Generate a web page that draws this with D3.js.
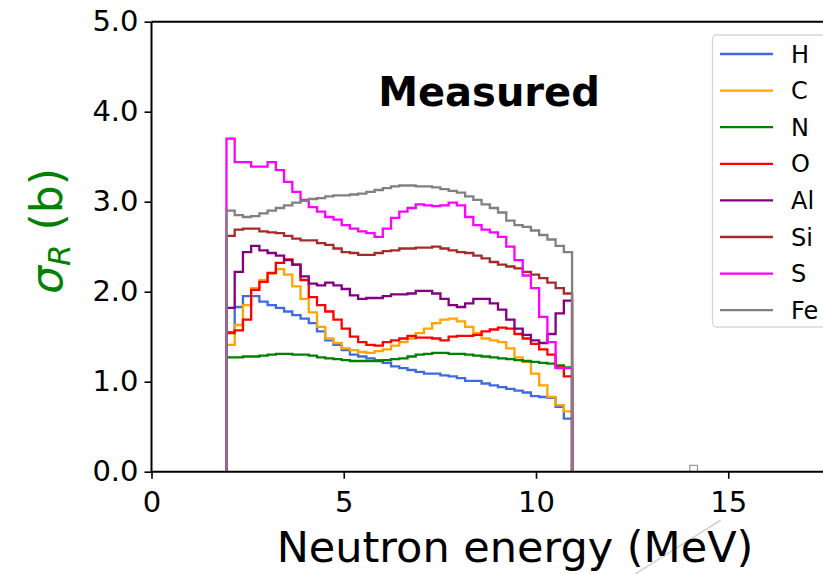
<!DOCTYPE html>
<html>
<head>
<meta charset="utf-8">
<script src="https://cdn.jsdelivr.net/npm/d3@7/dist/d3.min.js"></script>
<style>
  html, body { margin: 0; padding: 0; background: #fff; }
  svg { display: block; }
  text { font-family: "DejaVu Sans", sans-serif; }
</style>
</head>
<body>
<svg id="chart" width="823" height="574"></svg>
<script>
// ---------------- data ----------------
const elements = ["H", "C", "N", "O", "Al", "Si", "S", "Fe"];
const colors   = ["#4169E1", "#FFA500", "#008000", "#FF0000", "#800080", "#A52A2A", "#FF00FF", "#808080"];

const binStart = 1.95;     // MeV, first bin edge
const binWidth = 0.214;    // MeV

const H  = [1.55,1.83,1.95,1.95,1.89,1.85,1.82,1.78,1.74,1.70,1.65,1.56,1.46,1.41,1.35,1.30,1.28,1.26,1.24,1.21,1.17,
            1.15,1.13,1.11,1.09,1.09,1.07,1.06,1.04,1.01,1.01,0.98,0.96,0.94,0.92,0.90,0.88,0.84,0.83,0.82,0.72,0.59];
const C  = [1.41,1.63,1.85,2.04,2.13,2.20,2.25,2.19,2.06,1.92,1.77,1.61,1.48,1.43,1.37,1.35,1.33,1.32,1.34,1.36,1.40,
            1.44,1.48,1.54,1.59,1.65,1.69,1.70,1.67,1.61,1.54,1.48,1.46,1.44,1.37,1.27,1.22,1.09,0.96,0.83,0.74,0.67];
const N  = [1.27,1.27,1.28,1.28,1.29,1.30,1.31,1.31,1.30,1.30,1.29,1.27,1.26,1.25,1.24,1.23,1.23,1.23,1.23,1.24,1.25,
            1.26,1.28,1.30,1.31,1.32,1.32,1.31,1.31,1.30,1.29,1.28,1.27,1.26,1.25,1.24,1.23,1.22,1.21,1.20,1.18,1.16];
const O  = [1.54,1.57,1.69,2.02,2.11,2.21,2.32,2.36,2.30,2.13,1.94,1.85,1.78,1.69,1.59,1.50,1.44,1.41,1.40,1.44,1.46,
            1.48,1.51,1.49,1.49,1.48,1.46,1.50,1.51,1.51,1.52,1.56,1.58,1.60,1.59,1.53,1.48,1.42,1.36,1.30,1.16,1.06];
const Al = [1.82,2.22,2.44,2.51,2.46,2.43,2.40,2.35,2.30,2.17,2.09,2.07,2.10,2.07,2.03,1.96,1.92,1.93,1.93,1.95,1.97,
            1.97,1.98,2.01,2.01,1.98,1.92,1.85,1.83,1.87,1.92,1.92,1.87,1.80,1.69,1.59,1.52,1.46,1.43,1.53,1.76,1.90];
const Si = [2.62,2.69,2.70,2.70,2.67,2.66,2.65,2.62,2.59,2.57,2.57,2.54,2.52,2.48,2.44,2.43,2.41,2.41,2.43,2.45,2.46,
            2.48,2.48,2.49,2.49,2.50,2.48,2.46,2.44,2.43,2.40,2.37,2.33,2.30,2.28,2.26,2.22,2.19,2.15,2.10,2.04,1.98];
const S  = [3.70,3.44,3.44,3.39,3.39,3.44,3.35,3.22,3.11,3.02,2.94,2.89,2.83,2.80,2.74,2.70,2.67,2.65,2.61,2.70,2.82,
            2.89,2.93,2.97,2.96,2.95,2.96,2.99,2.96,2.83,2.74,2.69,2.66,2.61,2.50,2.35,2.18,2.04,1.72,1.44,1.15,1.15];
const Fe = [2.90,2.85,2.83,2.84,2.87,2.90,2.93,2.96,2.99,3.01,3.03,3.04,3.06,3.07,3.07,3.08,3.09,3.11,3.13,3.15,3.17,
            3.18,3.18,3.17,3.17,3.16,3.14,3.12,3.10,3.06,3.02,2.97,2.93,2.88,2.79,2.74,2.72,2.68,2.63,2.58,2.51,2.44];
const seriesValues = [H, C, N, O, Al, Si, S, Fe];

// tiny stray bin near 14 MeV
const strayStart = 14.0, strayWidth = 0.2, strayValue = [0.07];

const xTicks = [0, 5, 10, 15];
const yTicks = [0.0, 1.0, 2.0, 3.0, 4.0, 5.0];
const xTitle = "Neutron energy (MeV)";
const panelTitle = "Measured";

// ---------------- layout ----------------
const svg = d3.select("#chart");
const W = 823;
const x = d3.scaleLinear().domain([0, 20]).range([151.5, 151.5 + 20 * 38.45]);
const y = d3.scaleLinear().domain([0, 5]).range([471.7, 21.7]);

function stepPath(start, width, vals) {
  const p = d3.path();
  p.moveTo(x(start), y(0));
  vals.forEach((v, i) => {
    p.lineTo(x(start + i * width), y(v));
    p.lineTo(x(start + (i + 1) * width), y(v));
  });
  p.lineTo(x(start + vals.length * width), y(0));
  return p.toString();
}

// histograms
const g = svg.append("g");
seriesValues.forEach((vals, i) => {
  g.append("path")
    .attr("d", stepPath(binStart, binWidth, vals))
    .attr("fill", "none")
    .attr("stroke", colors[i])
    .attr("stroke-width", 2.3)
    .attr("stroke-linejoin", "miter");
});
g.append("path")
  .attr("d", stepPath(strayStart, strayWidth, strayValue))
  .attr("fill", "none").attr("stroke", "#9a9a9a").attr("stroke-width", 1.3);

// faint diagonal stroke (artifact in the original)
svg.append("line")
  .attr("x1", 632).attr("y1", 576).attr("x2", 721).attr("y2", 520)
  .attr("stroke", "#d4d4d4").attr("stroke-width", 1.6);

// axes
const yAxis = d3.axisLeft(y).tickValues(yTicks).tickFormat(d3.format(".1f")).tickSize(7).tickPadding(6);
const xAxis = d3.axisBottom(x).tickValues(xTicks).tickFormat(d3.format("d")).tickSize(7).tickPadding(6);

const ya = svg.append("g").attr("transform", `translate(${x(0)},0)`).call(yAxis);
const xa = svg.append("g").attr("transform", `translate(0,${y(0)})`).call(xAxis);
[ya, xa].forEach(a => {
  a.select(".domain").remove();
  a.selectAll(".tick line").attr("stroke", "#000").attr("stroke-width", 1.6);
  a.selectAll(".tick text").attr("fill", "#000").style("font-size", "29px").style("font-family", "DejaVu Sans");
});
xa.selectAll(".tick text").attr("dy", "0.95em");

// spines
svg.append("line").attr("x1", x(0)).attr("x2", x(0)).attr("y1", y(5)).attr("y2", y(0))
  .attr("stroke", "#000").attr("stroke-width", 2);
svg.append("line").attr("x1", x(0)).attr("x2", W + 5).attr("y1", y(0)).attr("y2", y(0))
  .attr("stroke", "#000").attr("stroke-width", 2);
svg.append("line").attr("x1", x(0)).attr("x2", W + 5).attr("y1", y(5)).attr("y2", y(5))
  .attr("stroke", "#000").attr("stroke-width", 2);

// axis titles
svg.append("text")
  .attr("x", 515).attr("y", 562)
  .attr("text-anchor", "middle")
  .style("font-size", "43px").attr("fill", "#000")
  .text(xTitle);

const yl = svg.append("text")
  .attr("transform", "translate(62,231) rotate(-90)")
  .attr("text-anchor", "middle")
  .style("font-size", "44px").attr("fill", "#008000");
yl.append("tspan").style("font-style", "italic").text("σ");
yl.append("tspan").style("font-style", "italic").style("font-size", "31px").attr("dy", 8).text("R");
yl.append("tspan").attr("dy", -8).text(" (b)");

// panel title
svg.append("text")
  .attr("x", 489).attr("y", 106)
  .attr("text-anchor", "middle")
  .style("font-size", "40px").style("font-weight", "bold").attr("fill", "#000")
  .text(panelTitle);

// legend
const lg = svg.append("g");
lg.append("rect")
  .attr("x", 712.5).attr("y", 35).attr("width", 200).attr("height", 292)
  .attr("rx", 4).attr("fill", "#fff").attr("fill-opacity", 0.85)
  .attr("stroke", "#d6d6d6").attr("stroke-width", 1.3);
elements.forEach((name, i) => {
  const yy = 54 + i * 36.6;
  lg.append("line").attr("x1", 720).attr("x2", 773).attr("y1", yy).attr("y2", yy)
    .attr("stroke", colors[i]).attr("stroke-width", 2.3);
  lg.append("text").attr("x", 791).attr("y", yy).attr("dy", "0.36em")
    .style("font-size", "24px").attr("fill", "#000").text(name);
});
</script>
</body>
</html>
